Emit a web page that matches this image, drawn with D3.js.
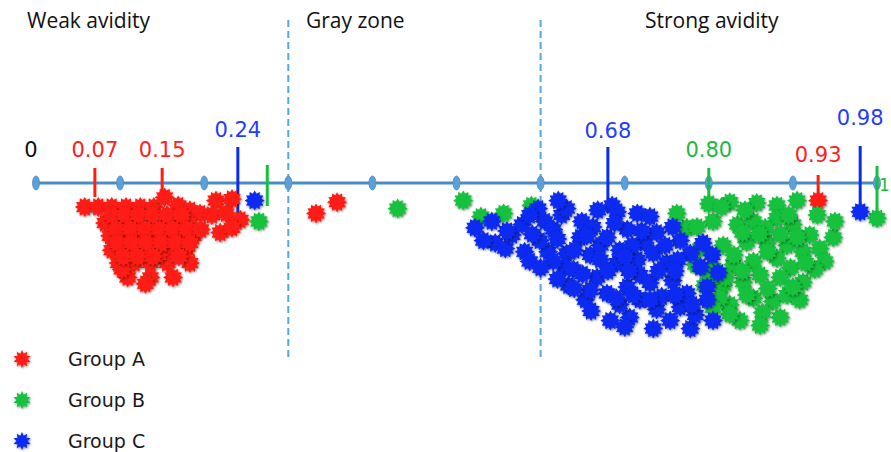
<!DOCTYPE html>
<html>
<head>
<meta charset="utf-8">
<script src="https://cdn.jsdelivr.net/npm/d3@7"></script>
<style>
  html, body { margin: 0; padding: 0; background: #fff; }
  svg { display: block; }
</style>
</head>
<body>
<svg id="chart" width="891" height="452"></svg>
<script>
// Avidity index (0–1) for each sample; depth is the stacking row below the axis.
const groups = ["A", "B", "C"];
const groupNames = ["Group A", "Group B", "Group C"];

const groupAValues = [0.058,0.074,0.090,0.107,0.124,0.140,0.153,0.169,0.183,0.195,
  0.082,0.098,0.114,0.131,0.147,0.165,0.181,
  0.088,0.105,0.121,0.138,0.155,0.171,0.187,
  0.090,0.108,0.125,0.143,0.162,0.178,
  0.098,0.117,0.136,0.156,0.183,
  0.109,0.136,0.163,0.102,0.145,0.130,
  0.090,0.106,0.122,0.139,0.156,0.173,
  0.096,0.113,0.130,0.147,0.163,0.180,0.196,
  0.097,0.114,0.131,0.149,0.166,0.183,
  0.104,0.121,0.139,0.170,
  0.214,0.233,0.209,0.226,0.243,0.219,0.233,
  0.333,0.358,0.93];
const groupADepth = [1.5,1.5,1.5,1.5,1.5,1.5,0.9,1.4,1.7,1.9,
  2.5,2.5,2.5,2.5,2.5,2.5,2.5,
  3.3,3.3,3.3,3.3,3.3,3.3,3.3,
  4.2,4.2,4.2,4.2,4.2,4.2,
  5.0,5.0,5.0,5.0,5.0,
  5.9,5.9,5.9,5.4,4.5,6.3,
  2.0,2.0,2.0,2.0,2.0,2.0,
  2.9,2.9,2.9,2.9,2.9,2.9,2.9,
  3.75,3.75,3.75,3.75,3.75,3.75,
  4.6,4.6,4.6,4.6,
  1.1,1.0,2.0,1.9,2.3,3.1,2.8,
  1.9,1.2,1.1];

const groupBValues = [0.265,0.430,0.508,0.529,0.556,0.589,
  0.800,0.825,0.857,0.881,0.905,0.929,0.948,
  0.774,0.805,0.834,0.853,0.881,0.900,0.920,
  0.790,0.817,0.845,0.869,0.893,0.912,0.932,
  0.805,0.829,0.853,0.881,0.897,
  0.817,0.841,0.861,0.885,0.912,
  0.825,0.853,0.876,0.893,0.885,0.864,0.813,
  0.762,0.786,0.950,0.784,0.795,0.867,0.843,0.938,0.908,0.837,0.861,0.926,
  0.815,0.840,0.860,0.885,0.905,0.830,0.870,0.915,0.840,0.820,0.870,0.900,0.845,0.825,
  0.805,0.800,0.895,
  1.0];
const groupBDepth = [2.4,1.6,1.1,2.1,1.9,1.4,
  1.3,1.2,1.25,1.4,1.1,2.0,3.4,
  2.8,2.4,2.6,2.4,2.2,2.6,3.25,
  4.1,3.9,3.7,3.75,3.9,4.3,4.1,
  5.3,5.1,4.9,4.7,5.3,
  6.4,6.2,5.75,5.9,6.2,
  7.6,7.2,7.4,7.0,8.4,8.1,7.2,
  1.9,2.75,2.4,5.1,6.4,2.8,1.7,4.9,7.3,8.6,8.9,5.4,
  1.5,3.1,3.2,3.2,3.4,4.5,4.3,5.0,5.5,5.9,6.6,6.5,7.0,8.2,
  7.8,6.0,2.0,
  2.2];

const groupCValues = [0.260,
  0.522,0.542,0.546,0.558,0.566,0.578,0.581,0.597,0.605,0.609,0.615,0.625,0.631,0.631,
  0.629,0.633,0.639,0.647,0.649,0.662,0.667,0.659,0.671,0.679,0.679,0.685,0.691,0.691,
  0.694,0.703,0.703,0.706,0.715,0.715,0.718,0.724,0.730,0.730,0.734,0.734,0.738,0.738,
  0.744,0.750,0.757,0.757,0.766,0.766,0.774,0.778,0.778,0.790,0.793,0.798,0.798,0.805,
  0.804,0.784,0.811,0.653,0.668,0.587,0.615,0.671,0.709,0.748,0.763,0.718,0.694,0.621,
  0.659,0.532,0.599,0.587,0.683,0.754,
  0.560,0.590,0.620,0.640,0.655,0.688,0.700,0.720,0.740,0.760,0.705,0.680,0.650,0.620,
  0.600,0.640,0.690,0.710,0.730,0.760,0.780,0.660,0.700,
  0.98];
const groupCDepth = [1.1,
  2.8,2.4,3.75,4.1,3.25,2.6,4.3,1.6,2.4,4.3,2.9,2.0,1.6,4.4,
  5.3,6.4,5.4,3.4,2.4,2.75,5.9,4.5,3.9,3.4,6.9,1.4,1.8,5.0,
  4.2,2.9,6.5,8.4,1.9,4.8,5.75,3.75,2.1,6.25,4.4,9.1,3.1,7.9,
  7.1,5.0,2.75,6.1,3.6,7.75,6.9,4.4,9.1,5.25,3.75,6.5,7.3,8.6,
  4.5,8.25,5.6,7.3,1.7,2.0,4.9,4.8,3.9,3.9,4.8,7.3,7.6,1.1,
  6.7,3.6,3.6,4.9,8.6,8.6,
  3.0,3.2,3.5,4.2,3.3,2.5,4.6,3.0,5.5,5.5,5.5,5.5,5.7,6.0,
  5.3,6.6,7.2,7.0,7.3,7.0,7.6,8.0,9.0,
  1.8];

// Reference markers drawn on the axis
const markerValues = [0.07, 0.15, 0.24, 0.275, 0.68, 0.80, 0.93, 0.98, 1.0];
const markerGroups = ["A", "A", "C", "B", "C", "B", "A", "C", "B"];
const markerLabels = ["0.07", "0.15", "0.24", "", "0.68", "0.80", "0.93", "0.98", "1"];

// Zone boundaries and titles
const zoneCuts = [0.3, 0.6];
const zoneTitles = ["Weak avidity", "Gray zone", "Strong avidity"];
const axisTicks = d3.range(0, 11).map(i => i / 10);

// ---- styling / layout ----
const colors = { A: "#ff1e12", B: "#12c23c", C: "#0a2cf2" };
const labelColors = { A: "#ff2020", B: "#1fb843", C: "#1f3cff" };
// tick extents [top, bottom] in px and label baseline per marker
const markerLayout = [
  { top: 168, bottom: 197, labelY: 157 },
  { top: 168, bottom: 197, labelY: 157 },
  { top: 147, bottom: 215, labelY: 137 },
  { top: 165, bottom: 206, labelY: null },
  { top: 147, bottom: 213, labelY: 138 },
  { top: 168, bottom: 205, labelY: 157 },
  { top: 175, bottom: 200, labelY: 162 },
  { top: 146, bottom: 212, labelY: 125 },
  { top: 166, bottom: 215, labelY: 191 }
];
const zoneTitleX = [27, 306, 645];

const svg = d3.select("#chart");
const x = d3.scaleLinear().domain([0, 1]).range([36, 877]);
const y = d3.scaleLinear().domain([0, 10]).range([183, 343]);
const axisY = y(0);

const defs = svg.append("defs");
const shadow = defs.append("filter").attr("id", "shadow")
  .attr("x", "-40%").attr("y", "-40%").attr("width", "180%").attr("height", "180%");
shadow.append("feDropShadow").attr("dx", 0.8).attr("dy", 1).attr("stdDeviation", 1.1)
  .attr("flood-color", "#000").attr("flood-opacity", 0.5);

function starPath(outer, inner, points) {
  const pts = d3.range(points * 2).map(i => [
    (i * Math.PI) / points,
    i % 2 === 0 ? outer : inner
  ]);
  return d3.lineRadial().curve(d3.curveLinearClosed)(pts);
}
const clusterStar = starPath(10, 7.2, 12);
const legendStar = starPath(9, 5.5, 10);

// Zone titles
svg.append("g").selectAll("text").data(zoneTitles).join("text")
  .attr("x", (d, i) => zoneTitleX[i]).attr("y", 28)
  .attr("font-family", "'Open Sans', sans-serif")
  .attr("font-size", 21).attr("fill", "#111")
  .text(d => d);

// Dashed zone boundaries
svg.append("g").selectAll("line").data(zoneCuts).join("line")
  .attr("x1", d => x(d)).attr("x2", d => x(d))
  .attr("y1", 20).attr("y2", 357)
  .attr("stroke", "#5aa6de").attr("stroke-width", 2)
  .attr("stroke-dasharray", "7,4");

// Axis line with oval ticks
svg.append("line")
  .attr("x1", x(0) - 3).attr("x2", x(1) + 3)
  .attr("y1", axisY).attr("y2", axisY)
  .attr("stroke", "#4a8cc8").attr("stroke-width", 3);
svg.append("g").selectAll("ellipse").data(axisTicks).join("ellipse")
  .attr("cx", d => x(d)).attr("cy", axisY)
  .attr("rx", 3.5).attr("ry", 7)
  .attr("fill", "#5d9fd8").attr("stroke", "#4a8cc8").attr("stroke-width", 0.8);

svg.append("text")
  .attr("x", x(0) - 5).attr("y", 157)
  .attr("text-anchor", "middle")
  .attr("font-family", "'DejaVu Sans', sans-serif").attr("font-size", 21)
  .attr("fill", "#111").text("0");

// Marker ticks and their labels
const markers = markerValues.map((v, i) => ({
  value: v, group: markerGroups[i], label: markerLabels[i], ...markerLayout[i]
}));
const mg = svg.append("g");
mg.selectAll("line").data(markers).join("line")
  .attr("x1", d => x(d.value)).attr("x2", d => x(d.value))
  .attr("y1", d => d.top).attr("y2", d => d.bottom)
  .attr("stroke", d => colors[d.group]).attr("stroke-width", 3);
mg.selectAll("text").data(markers.filter(d => d.label)).join("text")
  .attr("x", d => d.label === "1" ? x(d.value) + 2 : x(d.value))
  .attr("y", d => d.labelY)
  .attr("text-anchor", d => d.label === "1" ? "start" : "middle")
  .attr("font-family", "'DejaVu Sans', sans-serif")
  .attr("font-size", d => d.label === "1" ? 17 : 21)
  .attr("fill", d => labelColors[d.group])
  .text(d => d.label);

// Sample stars, each with its own soft shadow
const samples = [
  ...groupAValues.map((v, i) => ({ group: "A", value: v, depth: groupADepth[i] })),
  ...groupBValues.map((v, i) => ({ group: "B", value: v, depth: groupBDepth[i] })),
  ...groupCValues.map((v, i) => ({ group: "C", value: v, depth: groupCDepth[i] }))
];
svg.append("g")
  .selectAll("path").data(samples).join("path")
  .attr("d", clusterStar)
  .attr("transform", d => `translate(${x(d.value)},${y(d.depth)})`)
  .attr("fill", d => colors[d.group])
  .attr("filter", "url(#shadow)");

// Legend
const legend = svg.append("g").selectAll("g").data(groups).join("g")
  .attr("transform", (d, i) => `translate(22,${359 + i * 41})`);
legend.append("path").attr("d", legendStar)
  .attr("fill", d => colors[d]).attr("filter", "url(#shadow)");
legend.append("text")
  .attr("x", 46).attr("y", 7)
  .attr("font-family", "'DejaVu Sans', sans-serif").attr("font-size", 19)
  .attr("fill", "#1a1a1a")
  .text((d, i) => groupNames[i]);
</script>
</body>
</html>
